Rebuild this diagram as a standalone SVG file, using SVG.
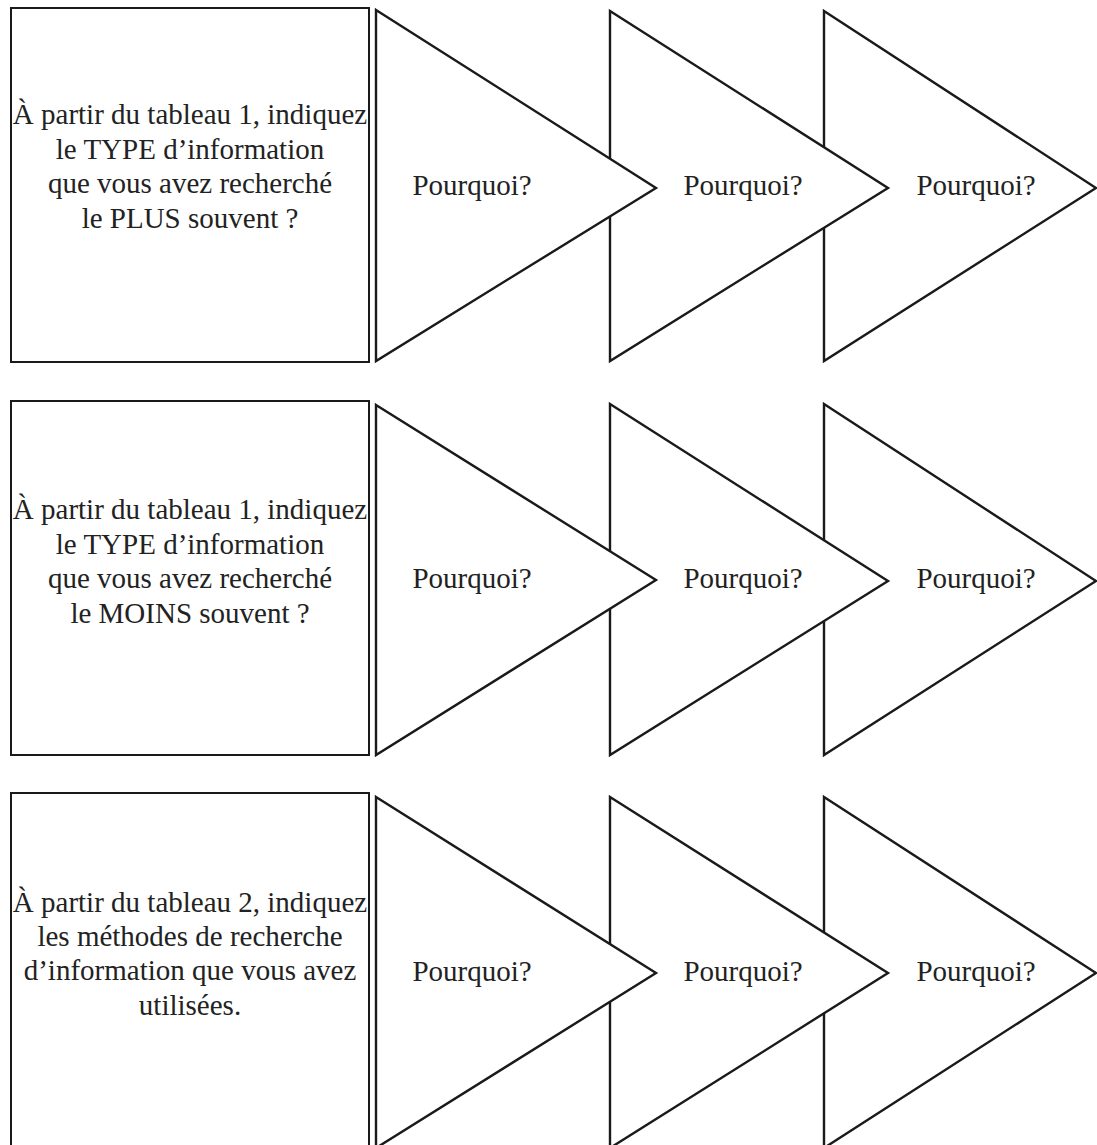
<svg xmlns="http://www.w3.org/2000/svg" width="1097" height="1145" viewBox="0 0 1097 1145">
  <style>
    .box { fill: #ffffff; stroke: #1a1a1a; stroke-width: 2; }
    .tri { fill: #ffffff; stroke: #1a1a1a; stroke-width: 2.4; stroke-linejoin: miter; }
    .q { font-family: "Liberation Serif", "Times New Roman", serif; font-size: 29px; fill: #222222; text-anchor: middle; }
    .why { font-family: "Liberation Serif", "Times New Roman", serif; font-size: 29px; fill: #222222; text-anchor: middle; }
  </style>
  <rect width="1097" height="1145" fill="#ffffff"/>

  <!-- Row 1 -->
  <g id="row1">
    <g id="r1-why3">
      <polygon class="tri" points="824,11 1096,188 824,361"/>
      <text class="why" x="976" y="195">Pourquoi?</text>
    </g>
    <g id="r1-why2">
      <polygon class="tri" points="610,11 888,188 610,361"/>
      <text class="why" x="743" y="195">Pourquoi?</text>
    </g>
    <g id="r1-why1">
      <polygon class="tri" points="376,10 656,188 376,361"/>
      <text class="why" x="472" y="195">Pourquoi?</text>
    </g>
    <g id="r1-question">
      <rect class="box" x="11" y="8" width="358" height="354"/>
      <text class="q" x="190" y="124">À partir du tableau 1, indiquez</text>
      <text class="q" x="190" y="159">le TYPE d’information</text>
      <text class="q" x="190" y="193">que vous avez recherché</text>
      <text class="q" x="190" y="228">le PLUS souvent ?</text>
    </g>
  </g>

  <!-- Row 2 -->
  <g id="row2">
    <g id="r2-why3">
      <polygon class="tri" points="824,404 1096,581 824,755"/>
      <text class="why" x="976" y="588">Pourquoi?</text>
    </g>
    <g id="r2-why2">
      <polygon class="tri" points="610,404 888,581 610,755"/>
      <text class="why" x="743" y="588">Pourquoi?</text>
    </g>
    <g id="r2-why1">
      <polygon class="tri" points="376,405 656,580 376,755"/>
      <text class="why" x="472" y="588">Pourquoi?</text>
    </g>
    <g id="r2-question">
      <rect class="box" x="11" y="401" width="358" height="354"/>
      <text class="q" x="190" y="519">À partir du tableau 1, indiquez</text>
      <text class="q" x="190" y="554">le TYPE d’information</text>
      <text class="q" x="190" y="588">que vous avez recherché</text>
      <text class="q" x="190" y="623">le MOINS souvent ?</text>
    </g>
  </g>

  <!-- Row 3 -->
  <g id="row3">
    <g id="r3-why3">
      <polygon class="tri" points="824,797 1096,973 824,1148"/>
      <text class="why" x="976" y="981">Pourquoi?</text>
    </g>
    <g id="r3-why2">
      <polygon class="tri" points="610,797 888,973 610,1148"/>
      <text class="why" x="743" y="981">Pourquoi?</text>
    </g>
    <g id="r3-why1">
      <polygon class="tri" points="376,797 656,973 376,1148"/>
      <text class="why" x="472" y="981">Pourquoi?</text>
    </g>
    <g id="r3-question">
      <rect class="box" x="11" y="793" width="358" height="356"/>
      <text class="q" x="190" y="912">À partir du tableau 2, indiquez</text>
      <text class="q" x="190" y="946">les méthodes de recherche</text>
      <text class="q" x="190" y="980">d’information que vous avez</text>
      <text class="q" x="190" y="1015">utilisées.</text>
    </g>
  </g>
</svg>
